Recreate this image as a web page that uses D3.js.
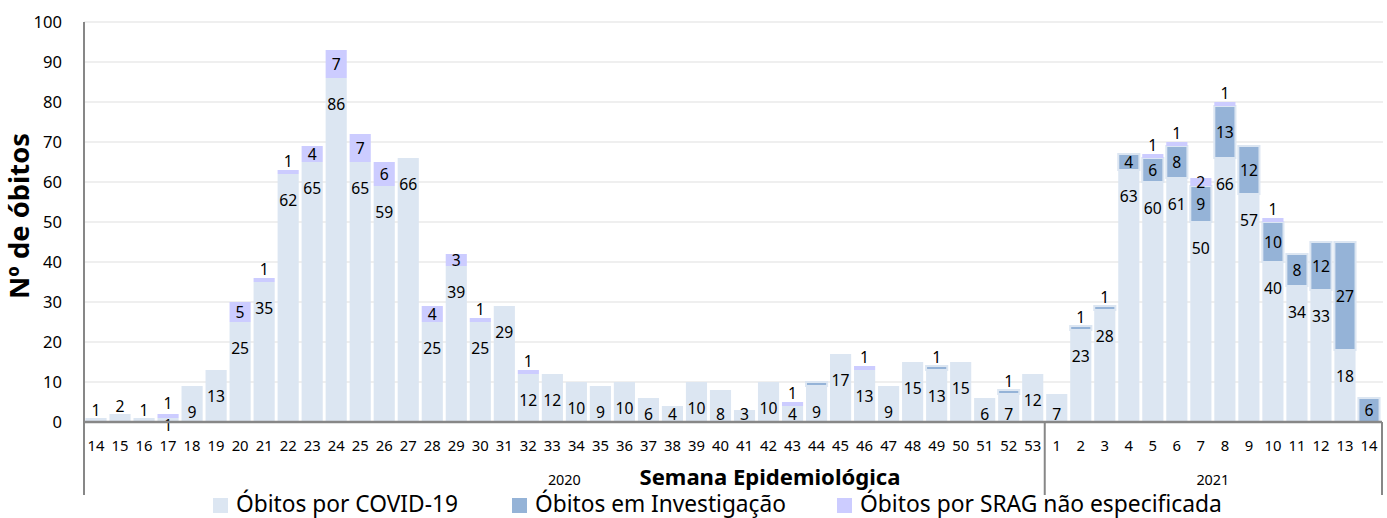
<!DOCTYPE html>
<html>
<head>
<meta charset="utf-8">
<script src="https://cdn.jsdelivr.net/npm/d3@7"></script>
<style>
  html, body { margin: 0; padding: 0; background: #fff; }
  svg { display: block; font-family: "Noto Sans", "Open Sans", sans-serif; }
</style>
</head>
<body>
<svg id="chart" width="1387" height="518"></svg>
<script>
// ---------- DATA ----------
const weeks2020 = [14,15,16,17,18,19,20,21,22,23,24,25,26,27,28,29,30,31,32,33,34,35,36,37,38,39,40,41,42,43,44,45,46,47,48,49,50,51,52,53];
const weeks2021 = [1,2,3,4,5,6,7,8,9,10,11,12,13,14];
const years = ["2020", "2021"];

const covid2020 = [1,2,1,1,9,13,25,35,62,65,86,65,59,66,25,39,25,29,12,12,10,9,10,6,4,10,8,3,10,4,9,17,13,9,15,13,15,6,7,12];
const covid2021 = [7,23,28,63,60,61,50,66,57,40,34,33,18,0];

const investig2020 = [0,0,0,0,0,0,0,0,0,0,0,0,0,0,0,0,0,0,0,0,0,0,0,0,0,0,0,0,0,0,1,0,0,0,0,1,0,0,1,0];
const investig2021 = [0,1,1,4,6,8,9,13,12,10,8,12,27,6];

const srag2020 = [0,0,0,1,0,0,5,1,1,4,7,7,6,0,4,3,1,0,1,0,0,0,0,0,0,0,0,0,0,1,0,0,1,0,0,0,0,0,0,0];
const srag2021 = [0,0,0,0,1,1,2,1,0,1,0,0,0,0];

const unlabeled = ["2020-44|investig"];

const seriesNames = ["Óbitos por COVID-19", "Óbitos em Investigação", "Óbitos por SRAG não especificada"];
const seriesKeys = ["covid", "investig", "srag"];
const seriesColors = ["#dce6f2", "#95b3d7", "#ccccff"];
const yTicks = [0,10,20,30,40,50,60,70,80,90,100];
const yTitle = "Nº de óbitos";
const xTitle = "Semana Epidemiológica";

// ---------- BUILD TABLE ----------
const rows = [];
weeks2020.forEach((w, i) => rows.push({key: "2020-" + w, year: "2020", week: w,
  covid: covid2020[i], investig: investig2020[i], srag: srag2020[i]}));
weeks2021.forEach((w, i) => rows.push({key: "2021-" + w, year: "2021", week: w,
  covid: covid2021[i], investig: investig2021[i], srag: srag2021[i]}));

// ---------- LAYOUT ----------
const svg = d3.select("#chart");
const pL = 84, pR = 1381, pT = 22, pB = 422;

// font size so that a sample string has a given width
function sizeFor(sample, targetW, weight) {
  const t = svg.append("text").attr("font-size", 20).attr("font-weight", weight || "normal").text(sample);
  const w = t.node().getComputedTextLength();
  t.remove();
  return +(20 * targetW / w).toFixed(2);
}
const fsData = sizeFor("86", 18);
const fsCat = sizeFor("14", 17);
const fsY = sizeFor("100", 28.5);
const fsYear = sizeFor("2020", 33);

const x = d3.scaleBand().domain(rows.map(d => d.key)).range([pL, pR])
  .paddingInner(0.12).paddingOuter(0.06);
const y = d3.scaleLinear().domain([0, 100]).range([pB, pT]);

// gridlines
svg.append("g").selectAll("line").data(yTicks.filter(t => t > 0)).join("line")
  .attr("x1", pL).attr("x2", pR + 2)
  .attr("y1", d => y(d)).attr("y2", d => y(d))
  .attr("stroke", "#efefef").attr("stroke-width", 2);

// y axis tick labels
svg.append("g").selectAll("text").data(yTicks).join("text")
  .attr("x", 62).attr("y", d => y(d)).attr("dy", "0.35em")
  .attr("text-anchor", "end").attr("font-size", fsY).attr("fill", "#000")
  .text(d => d);

// stacked bars
const stack = d3.stack().keys(seriesKeys)(rows);
const gBars = svg.append("g");
stack.forEach((layer, li) => {
  gBars.append("g").selectAll("rect").data(layer.filter(d => d[1] > d[0])).join("rect")
    .attr("x", d => x(d.data.key))
    .attr("width", x.bandwidth())
    .attr("y", d => y(d[1]))
    .attr("height", d => y(d[0]) - y(d[1]))
    .attr("fill", seriesColors[li])
    .attr("stroke", li === 1 ? "#dce6f2" : "none")
    .attr("stroke-width", li === 1 ? 2 : 0);
});

// data labels
const gLab = svg.append("g").attr("font-size", fsData).attr("fill", "#000").attr("text-anchor", "middle");
stack.forEach((layer, li) => {
  const key = seriesKeys[li];
  layer.forEach(d => {
    const v = d[1] - d[0];
    if (v <= 0) return;
    if (unlabeled.includes(d.data.key + "|" + key)) return;
    const y0 = y(d[0]), y1 = y(d[1]);
    const h = y0 - y1;
    const others = d.data.investig + d.data.srag;
    let cy;
    if (li === 0) {
      if (v < 3) cy = others > 0 ? pB + 3 : y1 - 8;
      else cy = Math.min(y1 + 26, pB - 8);
    } else {
      const belowSmall = d.data.covid < 3;
      cy = h < 6 ? y1 - (belowSmall ? 11 : 9) : (y0 + y1) / 2;
    }
    gLab.append("text")
      .attr("x", x(d.data.key) + x.bandwidth() / 2)
      .attr("y", cy).attr("dy", "0.35em")
      .text(v);
  });
});

// axes lines
const axisColor = "#878787";
svg.append("line").attr("x1", pL).attr("x2", pL).attr("y1", pT).attr("y2", 495)
  .attr("stroke", axisColor).attr("stroke-width", 2);
svg.append("line").attr("x1", pL).attr("x2", pR + 1).attr("y1", pB).attr("y2", pB)
  .attr("stroke", axisColor).attr("stroke-width", 2.5);

// category tick labels
svg.append("g").selectAll("text").data(rows).join("text")
  .attr("x", d => x(d.key) + x.bandwidth() / 2).attr("y", 451)
  .attr("text-anchor", "middle").attr("font-size", fsCat).attr("fill", "#000")
  .text(d => d.week);

// year groups
const step = x.step();
years.forEach((yr, i) => {
  const keys = rows.filter(r => r.year === yr).map(r => r.key);
  const x0 = x(keys[0]) - (step - x.bandwidth()) / 2;
  const x1 = x(keys[keys.length - 1]) + x.bandwidth() + (step - x.bandwidth()) / 2;
  if (i > 0) {
    svg.append("line").attr("x1", x0).attr("x2", x0).attr("y1", pB).attr("y2", 495)
      .attr("stroke", axisColor).attr("stroke-width", 2);
  }
  if (i === years.length - 1) {
    svg.append("line").attr("x1", pR + 1).attr("x2", pR + 1).attr("y1", pB).attr("y2", 495)
      .attr("stroke", axisColor).attr("stroke-width", 2);
  }
  svg.append("text").attr("x", (x0 + x1) / 2).attr("y", 485)
    .attr("text-anchor", "middle").attr("font-size", fsYear).attr("fill", "#000").text(yr);
});

function fit(sel, target) {
  const fs = parseFloat(sel.attr("font-size"));
  const w = sel.node().getComputedTextLength();
  sel.attr("font-size", (fs * target / w).toFixed(2));
}

// x title
const xt = svg.append("text").attr("x", 770).attr("y", 485).attr("text-anchor", "middle")
  .attr("font-size", 20).attr("font-weight", "bold").attr("fill", "#000").text(xTitle);
fit(xt, 261);

// y title
const yt = svg.append("text").attr("transform", "translate(29,216) rotate(-90)")
  .attr("text-anchor", "middle").attr("font-size", 19).attr("font-weight", "bold")
  .attr("fill", "#000").text(yTitle);
fit(yt, 166);

// legend
const legX = [213, 512, 837];
const legW = [222, 251, 362];
seriesNames.forEach((name, i) => {
  svg.append("rect").attr("x", legX[i]).attr("y", 498).attr("width", 15).attr("height", 15)
    .attr("fill", seriesColors[i]);
  const t = svg.append("text").attr("x", legX[i] + 23).attr("y", 512)
    .attr("font-size", 22).attr("fill", "#000").text(name);
  fit(t, legW[i]);
});
</script>
</body>
</html>
